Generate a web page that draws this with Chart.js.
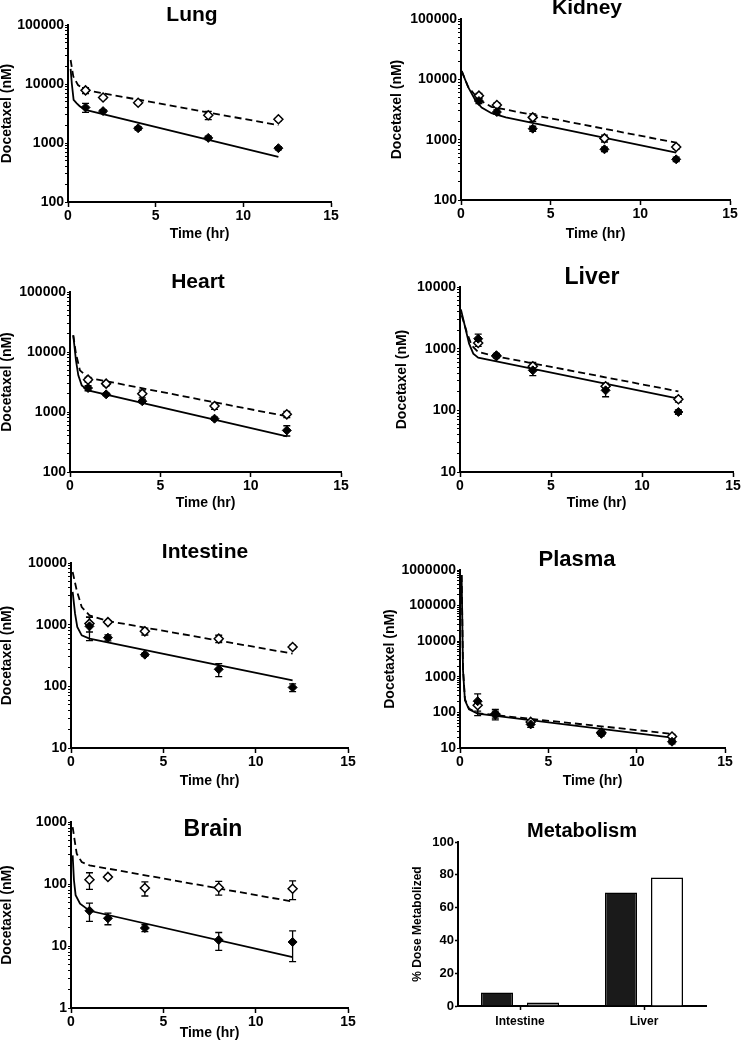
<!DOCTYPE html>
<html>
<head>
<meta charset="utf-8">
<script src="https://cdn.jsdelivr.net/npm/chart.js@4.4.1/dist/chart.umd.min.js"></script>
<style>
  html, body { margin: 0; padding: 0; background: #fff; }
  body { width: 744px; height: 1050px; position: relative; overflow: hidden; }
  canvas { position: absolute; }
</style>
</head>
<body>
<script>
// sampling times of the measured data (hr)
const TIMES = [1, 2, 4, 8, 12];

// Lung
const lungFilled   = [4000, 3470, 1780, 1220, 817];
const lungFilledSd = [700, 200, 120, 90, 50];
const lungOpen     = [7800, 5900, 4800, 2960, 2530];
const lungOpenSd   = [900, 300, 250, 470, 150];
const lungSolidT   = [0.15, 0.22, 0.32, 0.5, 0.67, 1, 12];
const lungSolidV   = [18000, 10000, 5400, 4700, 4200, 3650, 580];
const lungDashT    = [0.15, 0.3, 0.57, 1, 12];
const lungDashV    = [25500, 13500, 9600, 7900, 2000];

// Kidney
const kidneyFilled   = [4370, 2870, 1520, 692, 472];
const kidneyFilledSd = [400, 250, 150, 60, 40];
const kidneyOpen     = [5360, 3750, 2340, 1050, 755];
const kidneyOpenSd   = [500, 300, 330, 135, 60];
const kidneySolidT   = [0.04, 0.4, 0.8, 1.15, 1.7, 2.5, 12];
const kidneySolidV   = [13700, 7400, 4500, 3400, 2750, 2350, 610];
const kidneyDashT    = [0.04, 0.4, 1, 1.7, 12];
const kidneyDashV    = [13700, 7500, 4600, 3500, 890];

// Heart
const heartFilled   = [2510, 1970, 1510, 774, 494];
const heartFilledSd = [250, 100, 100, 50, 96];
const heartOpen     = [3460, 2970, 2020, 1260, 915];
const heartOpenSd   = [300, 250, 300, 150, 110];
const heartSolidT   = [0.18, 0.33, 0.46, 0.65, 1, 12];
const heartSolidV   = [19000, 7260, 4080, 2780, 2300, 393];
const heartDashT    = [0.18, 0.33, 0.55, 1, 12];
const heartDashV    = [19000, 9380, 4950, 3730, 847];

// Liver
const liverFilled   = [1450, 780, 445, 211, 94];
const liverFilledSd = [270, 60, 80, 45, 8];
const liverOpen     = [1236, 760, 517, 245, 151];
const liverOpenSd   = [150, 50, 80, 30, 15];
const liverSolidT   = [0.05, 0.28, 0.5, 0.73, 1, 2, 12];
const liverSolidV   = [4340, 2245, 1205, 830, 714, 624, 155];
const liverDashT    = [0.09, 0.37, 0.64, 1, 2, 12];
const liverDashV    = [3470, 1862, 1132, 883, 751, 203];

// Intestine
const intFilled   = [940, 615, 326, 189, 96];
const intFilledSd = [390, 70, 20, 45, 14];
const intOpen     = [1040, 1100, 780, 593, 434];
const intOpenSd   = [280, 50, 100, 80, 30];
const intSolidT   = [0.09, 0.22, 0.34, 0.58, 1, 12];
const intSolidV   = [3390, 1510, 916, 671, 593, 125];
const intDashT    = [0.09, 0.31, 0.58, 1, 2, 12];
const intDashV    = [7150, 3600, 1930, 1416, 1146, 339];

// Plasma
const plasmaFilled   = [206, 92, 46, 25, 15];
const plasmaFilledSd = [125, 30, 8, 3, 2];
const plasmaOpen     = [159, 89, 54, 27, 21];
const plasmaOpenSd   = [50, 20, 8, 3, 3];
const plasmaSolidT   = [0.09, 0.13, 0.17, 0.28, 0.51, 1, 12];
const plasmaSolidV   = [720000, 39000, 1530, 219, 122, 92, 19.5];
const plasmaDashT    = [0.09, 0.13, 0.17, 0.28, 0.51, 1, 12];
const plasmaDashV    = [720000, 42000, 1700, 235, 128, 95, 25];

// Brain
const brainFilled   = [37, 28, 19.5, 12.5, 11.6];
const brainFilledSd = [12, 6, 2.5, 4, 6];
const brainOpen     = [117, 130, 86, 88, 84];
const brainOpenSd   = [35, 8, 22, 22, 28];
const brainSolidT   = [0.09, 0.16, 0.25, 0.49, 1, 12];
const brainSolidV   = [290, 115, 66, 48, 37, 6.6];
const brainDashT    = [0.09, 0.2, 0.31, 0.58, 1, 12];
const brainDashV    = [830, 500, 308, 226, 200, 52];

// Metabolism (% dose)
const metaCategories = ['Intestine', 'Liver'];
const metaFilled     = [8.3, 69.2];
const metaOpen       = [2.2, 78.4];

const FONT = "'Liberation Sans', Arial, sans-serif";
Chart.defaults.font.family = FONT;
Chart.defaults.font.weight = 'bold';
Chart.defaults.color = '#000';

const xy = (ts, vs) => ts.map((t, i) => ({ x: t, y: vs[i] }));

function logTicks(min, max) {
  const out = [];
  for (let e = Math.round(Math.log10(min)); e < Math.round(Math.log10(max)); e++) {
    for (let m = 1; m < 10; m++) out.push(m * Math.pow(10, e));
  }
  out.push(max);
  return out;
}
const isPow10 = v => Math.abs(Math.log10(v) - Math.round(Math.log10(v))) < 1e-9;

const errorBars = {
  id: 'errorBars',
  beforeDatasetsDraw(chart) {
    const { ctx, scales: { x, y } } = chart;
    ctx.save();
    ctx.strokeStyle = '#000';
    ctx.lineWidth = 1.3;
    chart.data.datasets.forEach(ds => {
      if (!ds.sd) return;
      ds.data.forEach((pt, j) => {
        const sd = ds.sd[j];
        if (!sd) return;
        const px = x.getPixelForValue(pt.x);
        const hi = y.getPixelForValue(pt.y + sd);
        const lo = y.getPixelForValue(Math.max(pt.y - sd, y.min));
        ctx.beginPath();
        ctx.moveTo(px, hi); ctx.lineTo(px, lo);
        ctx.moveTo(px - 3.5, hi); ctx.lineTo(px + 3.5, hi);
        ctx.moveTo(px - 3.5, lo); ctx.lineTo(px + 3.5, lo);
        ctx.stroke();
      });
    });
    ctx.restore();
  }
};

const panelTitle = {
  id: 'panelTitle',
  afterDraw(chart, args, opts) {
    const ctx = chart.ctx;
    ctx.save();
    ctx.font = `bold ${opts.size}px ${FONT}`;
    ctx.fillStyle = '#000';
    ctx.textAlign = 'center';
    ctx.textBaseline = 'middle';
    ctx.fillText(opts.text, opts.x, opts.y);
    ctx.restore();
  }
};

function placeCanvas(p, bottom) {
  const left = p.yTitleX - 7;
  const top = Math.max(0, Math.min(p.titleY - 14, p.T - 12));
  const right = p.R + 12;
  const cv = document.createElement('canvas');
  cv.width = right - left;
  cv.height = bottom - top;
  cv.style.left = left + 'px';
  cv.style.top = top + 'px';
  document.body.appendChild(cv);
  return { cv, left, top, right };
}

function timePanel(p) {
  const bottom = p.xTitleY + 7;
  const { cv, left, top, right } = placeCanvas(p, bottom);
  const yW = p.L - left, xH = bottom - p.B;
  const marker = { showLine: false, pointStyle: 'rectRot', pointRadius: 4.5, pointHoverRadius: 4.5, borderColor: '#000' };
  const line = { showLine: true, pointRadius: 0, pointHoverRadius: 0, borderColor: '#000', borderWidth: 1.8, tension: 0, fill: false };
  new Chart(cv, {
    type: 'scatter',
    data: {
      datasets: [
        { ...marker, data: xy(TIMES, p.filled), sd: p.filledSd, backgroundColor: '#000', borderWidth: 1 },
        { ...marker, data: xy(TIMES, p.open), sd: p.openSd, backgroundColor: '#fff', borderWidth: 1.5 },
        { ...line, data: xy(p.solidT, p.solidV) },
        { ...line, data: xy(p.dashT, p.dashV), borderDash: [7, 4] }
      ]
    },
    options: {
      responsive: false,
      animation: false,
      layout: { padding: { top: p.T - top, right: right - p.R, left: 0, bottom: 0 } },
      plugins: {
        legend: { display: false },
        tooltip: { enabled: false },
        panelTitle: { text: p.title, size: p.titleSize, x: p.titleX - left, y: p.titleY - top }
      },
      scales: {
        x: {
          type: 'linear', min: 0, max: 15,
          ticks: { stepSize: 5, font: { size: 14, weight: 'bold' }, padding: 1, color: '#000' },
          grid: { drawOnChartArea: false, tickLength: 5, tickColor: '#000', tickWidth: 1.5 },
          border: { color: '#000', width: 2 },
          title: { display: true, text: 'Time (hr)', font: { size: 14, weight: 'bold', lineHeight: 1 }, padding: 0, color: '#000' },
          afterFit: s => { s.height = xH; }
        },
        y: {
          type: 'logarithmic', min: p.yMin, max: p.yMax,
          afterBuildTicks: s => { s.ticks = logTicks(p.yMin, p.yMax).map(v => ({ value: v })); },
          ticks: { autoSkip: false, callback: v => isPow10(v) ? String(v) : '', font: { size: 14, weight: 'bold' }, padding: 1, color: '#000' },
          grid: { drawOnChartArea: false, tickLength: 3, tickColor: '#000', tickWidth: 1 },
          border: { color: '#000', width: 2 },
          title: { display: true, text: 'Docetaxel (nM)', font: { size: 14, weight: 'bold', lineHeight: 1 }, padding: 0, color: '#000' },
          afterFit: s => { s.width = yW; }
        }
      }
    },
    plugins: [errorBars, panelTitle]
  });
}

const panels = [
  { title: 'Lung', filled: lungFilled, filledSd: lungFilledSd, open: lungOpen, openSd: lungOpenSd,
    solidT: lungSolidT, solidV: lungSolidV, dashT: lungDashT, dashV: lungDashV,
    yMin: 100, yMax: 100000, L: 68, R: 331, T: 25, B: 202, titleX: 192, titleY: 15, titleSize: 21, yTitleX: 7, xTitleY: 234 },
  { title: 'Kidney', filled: kidneyFilled, filledSd: kidneyFilledSd, open: kidneyOpen, openSd: kidneyOpenSd,
    solidT: kidneySolidT, solidV: kidneySolidV, dashT: kidneyDashT, dashV: kidneyDashV,
    yMin: 100, yMax: 100000, L: 461, R: 730, T: 19, B: 200, titleX: 587, titleY: 8, titleSize: 21, yTitleX: 397, xTitleY: 234 },
  { title: 'Heart', filled: heartFilled, filledSd: heartFilledSd, open: heartOpen, openSd: heartOpenSd,
    solidT: heartSolidT, solidV: heartSolidV, dashT: heartDashT, dashV: heartDashV,
    yMin: 100, yMax: 100000, L: 70, R: 341, T: 292, B: 472, titleX: 198, titleY: 282, titleSize: 21, yTitleX: 7, xTitleY: 503 },
  { title: 'Liver', filled: liverFilled, filledSd: liverFilledSd, open: liverOpen, openSd: liverOpenSd,
    solidT: liverSolidT, solidV: liverSolidV, dashT: liverDashT, dashV: liverDashV,
    yMin: 10, yMax: 10000, L: 460, R: 733, T: 287, B: 472, titleX: 592, titleY: 278, titleSize: 23, yTitleX: 402, xTitleY: 503 },
  { title: 'Intestine', filled: intFilled, filledSd: intFilledSd, open: intOpen, openSd: intOpenSd,
    solidT: intSolidT, solidV: intSolidV, dashT: intDashT, dashV: intDashV,
    yMin: 10, yMax: 10000, L: 71, R: 348, T: 563, B: 748, titleX: 205, titleY: 552, titleSize: 21, yTitleX: 7, xTitleY: 781 },
  { title: 'Plasma', filled: plasmaFilled, filledSd: plasmaFilledSd, open: plasmaOpen, openSd: plasmaOpenSd,
    solidT: plasmaSolidT, solidV: plasmaSolidV, dashT: plasmaDashT, dashV: plasmaDashV,
    yMin: 10, yMax: 1000000, L: 460, R: 725, T: 570, B: 748, titleX: 577, titleY: 560, titleSize: 22, yTitleX: 390, xTitleY: 781 },
  { title: 'Brain', filled: brainFilled, filledSd: brainFilledSd, open: brainOpen, openSd: brainOpenSd,
    solidT: brainSolidT, solidV: brainSolidV, dashT: brainDashT, dashV: brainDashV,
    yMin: 1, yMax: 1000, L: 71, R: 348, T: 822, B: 1008, titleX: 213, titleY: 830, titleSize: 23, yTitleX: 7, xTitleY: 1033 }
];
panels.forEach(timePanel);

// Metabolism bar panel
(function () {
  const p = { L: 458, R: 706, T: 842, B: 1006, titleX: 582, titleY: 831, yTitleX: 418 };
  const bottom = 1040;
  const { cv, left, top, right } = placeCanvas({ ...p, yTitleX: p.yTitleX + 1 }, bottom);
  const yW = p.L - left, xH = bottom - p.B;
  new Chart(cv, {
    type: 'bar',
    data: {
      labels: metaCategories,
      datasets: [
        { data: metaFilled, backgroundColor: '#1a1a1a', borderColor: '#000', borderWidth: 1.5 },
        { data: metaOpen, backgroundColor: ['#8c8c8c', '#ffffff'], borderColor: '#000', borderWidth: 1.5 }
      ]
    },
    options: {
      responsive: false,
      animation: false,
      categoryPercentage: 0.742,
      barPercentage: 0.696,
      layout: { padding: { top: p.T - top, right: right - p.R, left: 0, bottom: 0 } },
      plugins: {
        legend: { display: false },
        tooltip: { enabled: false },
        panelTitle: { text: 'Metabolism', size: 20, x: p.titleX - left, y: p.titleY - top }
      },
      scales: {
        x: {
          ticks: { font: { size: 12, weight: 'bold' }, padding: 4, color: '#000' },
          grid: { offset: false, drawOnChartArea: false, tickLength: 4, tickColor: '#000', tickWidth: 1.5 },
          border: { color: '#000', width: 2 },
          afterFit: s => { s.height = xH; }
        },
        y: {
          min: 0, max: 100,
          ticks: { stepSize: 20, font: { size: 13, weight: 'bold' }, padding: 1, color: '#000' },
          grid: { drawOnChartArea: false, tickLength: 3, tickColor: '#000', tickWidth: 1.5 },
          border: { color: '#000', width: 2 },
          title: { display: true, text: '% Dose Metabolized', font: { size: 12, weight: 'bold', lineHeight: 1 }, padding: 0, color: '#000' },
          afterFit: s => { s.width = yW; }
        }
      }
    },
    plugins: [panelTitle]
  });
})();
</script>
</body>
</html>
